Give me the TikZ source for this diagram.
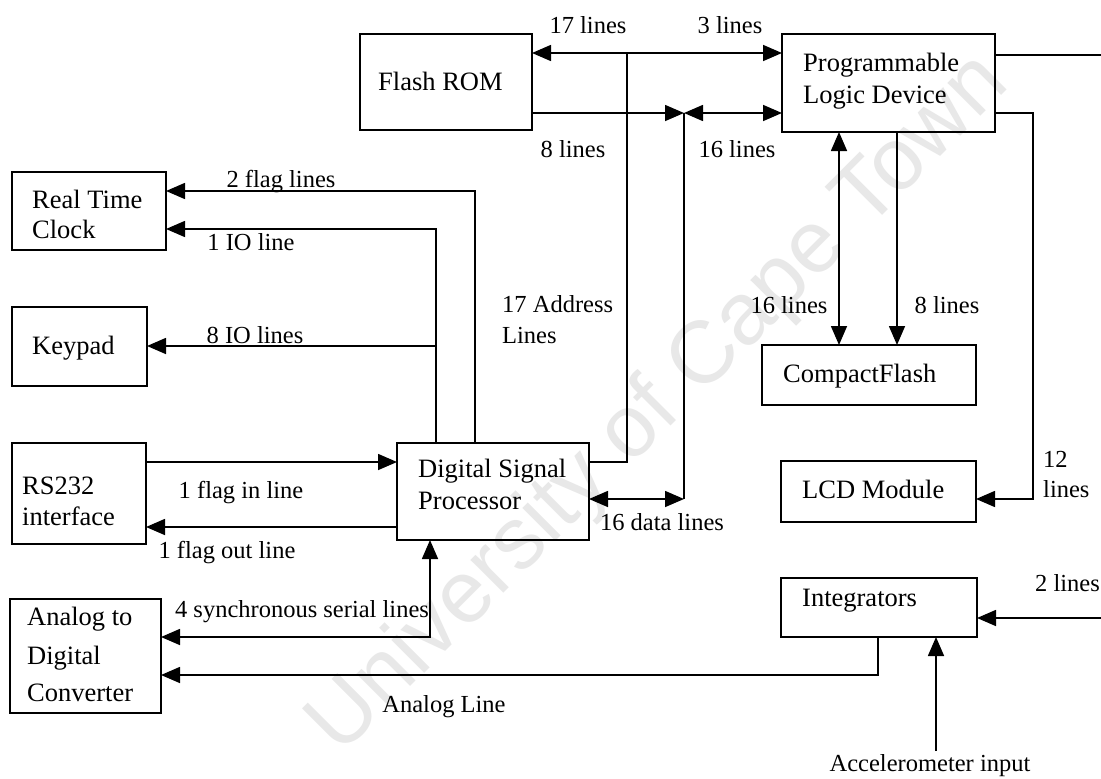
\documentclass[tikz,border=0pt]{standalone}
\usepackage{fontspec}
\setmainfont{Liberation Serif}
\newfontfamily\wmfont{Liberation Sans}
\usetikzlibrary{arrows.meta}
\begin{document}
\begin{tikzpicture}[x=1pt,y=-1pt,
  box/.style={draw,line width=1.6pt,inner sep=0pt,outer sep=0pt},
  lbl/.style={font=\fontsize{24.5}{30}\selectfont,inner sep=0pt,anchor=base},
  btxt/.style={font=\fontsize{26.5}{31}\selectfont,inner sep=0pt,anchor=base west},
  wire/.style={line width=1.6pt},
  arr/.style={wire,-{Triangle[length=19pt,width=16pt]}},
  darr/.style={wire,{Triangle[length=19pt,width=16pt]}-{Triangle[length=19pt,width=16pt]}},
]
\useasboundingbox (0,0) rectangle (1101,779);
\clip (0,0) rectangle (1101,779);
\fill[white] (0,0) rectangle (1101,779);

% watermark
\node[rotate=45, font=\wmfont\fontsize{88}{90}\selectfont, text=black!9] (wm) at (660,405) {University of Cape Town};

% boxes
\node[box,minimum width=172pt,minimum height=96pt] (flash) at (446,82) {};
\node[box,minimum width=213pt,minimum height=98pt] (pld) at (888.5,83) {};
\node[box,minimum width=154pt,minimum height=78pt] (rtc) at (89,211) {};
\node[box,minimum width=135pt,minimum height=79pt] (kp) at (79.5,346.5) {};
\node[box,minimum width=134pt,minimum height=101pt] (rs) at (79,493.5) {};
\node[box,minimum width=192pt,minimum height=97pt] (dsp) at (493,491.5) {};
\node[box,minimum width=151pt,minimum height=114pt] (adc) at (85.5,656) {};
\node[box,minimum width=214pt,minimum height=60pt] (cf) at (869,375) {};
\node[box,minimum width=195pt,minimum height=61pt] (lcd) at (878.5,491.5) {};
\node[box,minimum width=196pt,minimum height=59pt] (integ) at (879,607.5) {};

% box texts
\node[btxt] (flashT) at (378,90) {Flash ROM};
\node[btxt] (pldT1) at (803,71) {Programmable};
\node[btxt] (pldT2) at (803,103) {Logic Device};
\node[btxt] (rtcT1) at (32,208) {Real Time};
\node[btxt] (rtcT2) at (32,238) {Clock};
\node[btxt] (kpT) at (32,354) {Keypad};
\node[btxt] (rsT1) at (22,494) {RS232};
\node[btxt] (rsT2) at (22,525) {interface};
\node[btxt] (dspT1) at (418,477) {Digital Signal};
\node[btxt] (dspT2) at (418,509) {Processor};
\node[btxt] (adcT1) at (27,625) {Analog to};
\node[btxt] (adcT2) at (27,664) {Digital};
\node[btxt] (adcT3) at (27,701) {Converter};
\node[btxt] (cfT) at (783,382) {CompactFlash};
\node[btxt] (lcdT) at (802,498) {LCD Module};
\node[btxt] (intT) at (802,606) {Integrators};

% junctions and free ends
\coordinate (ja) at (627,53);
\coordinate (jd) at (684,113);
\coordinate (jdb) at (684,499);
\coordinate (kpj) at (436,346);
\coordinate (lcdc) at (1033,499);
\coordinate (edgeA) at (1110,55);
\coordinate (edgeB) at (1110,618);
\coordinate (accS) at (936,751);

% connectors
\draw[darr] (flash.east |- 0,53) -- (pld.west |- 0,53);
\draw[wire] (dsp.east |- 0,462) -| (ja);
\draw[arr] (flash.east |- 0,113) -- (jd);
\draw[darr] (pld.west |- 0,113) -- (jd);
\draw[wire] (jd) -- (jdb);
\draw[darr] (dsp.east |- 0,499) -- (jdb);
\draw[darr] (pld.south -| 839,0) -- (cf.north -| 839,0);
\draw[arr] (pld.south -| 897,0) -- (cf.north -| 897,0);
\draw[wire] (pld.east |- 0,55) -- (edgeA);
\draw[arr] (pld.east |- 0,113) -| (lcdc) -- (lcd.east |- 0,499);
\draw[arr] (edgeB) -- (integ.east |- 0,618);
\draw[arr] (accS) -- (integ.south -| 936,0);
\draw[arr] (integ.south -| 878,0) |- (adc.east |- 0,675);
\draw[darr] (dsp.south -| 430,0) |- (adc.east |- 0,637);
\draw[arr] (rs.east |- 0,462) -- (dsp.west |- 0,462);
\draw[arr] (dsp.west |- 0,527) -- (rs.east |- 0,527);
\draw[arr] (dsp.north -| 475,0) |- (rtc.east |- 0,191);
\draw[arr] (dsp.north -| 436,0) |- (rtc.east |- 0,229);
\draw[arr] (kpj) -- (kp.east |- 0,346);

% labels
\node[lbl] (l17) at (588,33) {17 lines};
\node[lbl] (l3) at (730,33) {3 lines};
\node[lbl] (l8) at (573,157) {8 lines};
\node[lbl] (l16) at (737,157) {16 lines};
\node[lbl] (l2f) at (281,187) {2 flag lines};
\node[lbl] (l1io) at (251,250) {1 IO line};
\node[lbl] (l8io) at (255,343) {8 IO lines};
\node[lbl] (lfi) at (241,498) {1 flag in line};
\node[lbl] (lfo) at (227,558) {1 flag out line};
\node[lbl] (lsync) at (302,617) {4 synchronous serial lines};
\node[lbl] (lan) at (444,712) {Analog Line};
\node[lbl] (ldata) at (662,530) {16 data lines};
\node[lbl,anchor=base west] (laddr1) at (502,312) {17 Address};
\node[lbl,anchor=base west] (laddr2) at (502,343) {Lines};
\node[lbl] (lcf16) at (789,313) {16 lines};
\node[lbl] (lcf8) at (947,313) {8 lines};
\node[lbl,anchor=base west] (l12a) at (1043,467) {12};
\node[lbl,anchor=base west] (l12b) at (1043,497) {lines};
\node[lbl,anchor=base west] (l2) at (1035,591) {2 lines};
\node[lbl] (acc) at (930,771) {Accelerometer input};
\end{tikzpicture}
\end{document}
